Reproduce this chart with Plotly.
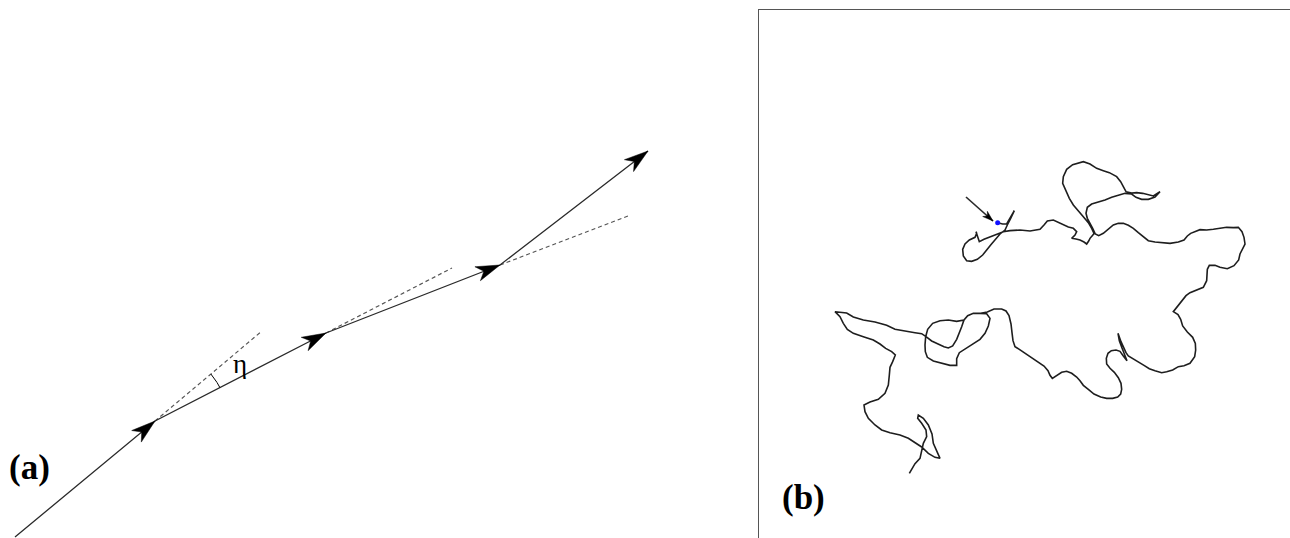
import numpy as np
import plotly.graph_objects as go

# ---------------- Panel (a): successive steps (pixel-like units, y downwards) ----------------
step_x = [15, 155, 326, 500, 648]
step_y = [537, 421, 333, 265, 151]
# ends of the dashed prolongations starting at vertices 1..3
dash_end_x = [262, 452, 628]
dash_end_y = [331, 268, 216]
angle_label = "η"
panel_labels = ["(a)", "(b)"]

# ---------------- Panel (b): traced trajectory (picture units, y downwards) ----------------
walk_start = [(533,218),(548,222),(560,222),(570,205),(583,182),(572,205),(562,225),(555,240),
    (540,252),(525,268),(512,285),(500,300),(488,315),(472,328),(455,334),(440,332),(430,318),
    (428,298),(435,282),(448,270),(465,262),(470,250),(468,245),(474,262),(478,275),(492,268),
    (508,262),(520,258),(535,250),(550,245),(570,242),(600,240),(630,243),(660,238),(672,225),
    (682,213),(700,210),(715,217),(730,225),(745,231),(760,235),(770,245),(765,255),(755,265),
    (768,267),(780,270),(792,276),(800,282),(806,273),(810,265),(818,256),(822,250)]
walk_north = [(815,235),(805,218),(790,200),(775,183),(760,165),(748,145),(738,122),(728,100),
    (730,80),(740,58),(758,44),(775,40),(790,35),(810,42),(830,55),(850,62),(868,68),(890,80),
    (902,95),(910,110),(918,125),(935,129),(950,128),(968,130),(985,135),(1000,138),(1020,125),
    (1005,141),(985,148),(965,148),(948,142),(935,132),(915,130),(895,135),(875,142),(855,150),
    (835,157),(815,162),(802,172),(798,190),(802,205),(810,218),(818,235),(826,252)]
walk_east = [(836,257),(850,250),(865,236),(880,225),(895,220),(910,220),(925,226),(940,235),
    (955,248),(970,260),(985,272),(1005,276),(1020,278),(1050,280),(1075,276),(1092,270),
    (1102,258),(1112,250),(1140,239),(1160,240),(1180,238),(1200,236),(1220,232),(1240,233),
    (1255,232),(1266,245),(1272,262),(1275,282),(1266,298),(1260,312),(1256,330),(1242,347),
    (1222,356),(1200,352),(1185,346),(1168,346),(1162,358),(1162,375),(1160,392),(1150,412),
    (1130,420),(1110,428),(1098,437),(1088,450),(1076,465),(1060,485),(1074,494),(1082,508),
    (1088,528),(1102,546),(1118,562),(1126,580),(1127,600),(1124,620),(1110,640),(1092,647),
    (1075,650),(1058,660),(1040,665),(1025,668),(1005,662),(988,656),(972,646),(955,636),
    (938,624),(925,618),(918,608),(910,592),(903,575),(894,550),(898,572),(906,594),(914,616),
    (921,632),(910,618),(900,604),(888,600),(874,602),(864,610),(859,625),(860,642),(870,655),
    (883,667),(895,683),(903,700),(905,718),(902,732),(893,741),(878,745),(860,745),(842,741),
    (822,732),(805,718),(790,706),(780,692),(770,681),(755,670),(740,664),(725,667),(712,676),
    (697,685),(690,676),(684,662),(672,648),(655,636),(635,623),(615,610),(598,598),(585,590),
    (579,572),(576,548),(573,522),(567,497),(558,483),(545,477),(522,477),(502,486)]
walk_west = [(482,490),(460,490),(443,497),(432,510),(410,514),(385,510),(360,512),(338,520),
    (323,538),(317,560),(315,585),(316,605),(322,622),(340,633),(365,640),(390,646),(410,646),
    (410,626),(418,608),(438,595),(460,583),(480,568),(495,550),(505,528),(510,505),(500,491),
    (480,490),(460,490),(443,497),(432,510),(425,530),(418,548),(410,568),(398,588),(385,594),
    (372,590),(355,583),(335,573),(318,560),(305,551),(285,548),(265,545),(245,540),(225,538),
    (200,526),(165,516),(130,510),(100,501),(80,489),(60,486),(45,485),(60,500),(70,520),
    (82,538),(100,550),(130,560),(160,570),(180,582),(197,595),(215,605),(226,615),(218,635),
    (210,652),(208,675),(205,705),(195,730),(175,748),(150,756),(132,765),(135,785),(145,805),
    (165,825),(185,840),(210,848),(240,855),(265,865),(290,880),(305,891),(325,910),(345,922),
    (360,925),(350,902),(340,880),(336,852),(325,825),(310,805),(295,795),(293,805),(305,820),
    (318,840),(320,860),(310,880),(305,900),(300,925),(285,941),(268,970)]
start_point = (533, 218)
pointer_tail = (438, 141)
pointer_tip = (519, 213)

SERIF = "Liberation Serif, Times New Roman, serif"


def head_polygon(tip, tail, length, width, notch):
    tip = np.asarray(tip, float)
    tail = np.asarray(tail, float)
    d = tip - tail
    d /= np.hypot(*d)
    n = np.array([-d[1], d[0]])
    base = tip - length * d
    pts = [tip, base + width / 2 * n, tip - notch * length * d, base - width / 2 * n, tip]
    return [p[0] for p in pts], [p[1] for p in pts]


fig = go.Figure()

# ---- panel (a) ----
for i in range(3):
    fig.add_trace(go.Scatter(
        x=[step_x[i + 1], dash_end_x[i]], y=[step_y[i + 1], dash_end_y[i]],
        mode="lines", line=dict(color="#555555", width=1.2, dash="4px,3px"),
        xaxis="x", yaxis="y", hoverinfo="skip"))

fig.add_trace(go.Scatter(x=step_x, y=step_y, mode="lines",
                         line=dict(color="#2a2a2a", width=1.3),
                         xaxis="x", yaxis="y", hoverinfo="skip"))

for i in range(1, len(step_x)):
    hx, hy = head_polygon((step_x[i], step_y[i]), (step_x[i - 1], step_y[i - 1]), 24, 15, 0.72)
    fig.add_trace(go.Scatter(x=hx, y=hy, mode="lines", fill="toself", fillcolor="black",
                             line=dict(color="black", width=0.5),
                             xaxis="x", yaxis="y", hoverinfo="skip"))

# angle arc at vertex 1
cx, cy = step_x[1], step_y[1]
a_seg = np.arctan2(step_y[2] - cy, step_x[2] - cx)
a_dash = np.arctan2(dash_end_y[0] - cy, dash_end_x[0] - cx)
t = np.linspace(a_dash, a_seg, 30)
r = 73
fig.add_trace(go.Scatter(x=cx + r * np.cos(t), y=cy + r * np.sin(t), mode="lines",
                         line=dict(color="black", width=1), xaxis="x", yaxis="y",
                         hoverinfo="skip"))

fig.add_annotation(x=240, y=364, xref="x", yref="y", text=angle_label, showarrow=False,
                   font=dict(family=SERIF, size=27, color="black"))
fig.add_annotation(x=29, y=467, xref="x", yref="y", text="<b>" + panel_labels[0] + "</b>",
                   showarrow=False, font=dict(family=SERIF, size=35, color="black"))

# ---- panel (b) ----
walk = walk_start + walk_north + walk_east + walk_west
fig.add_trace(go.Scatter(x=[p[0] for p in walk], y=[p[1] for p in walk], mode="lines",
                         line=dict(color="#1e1e1e", width=1.6),
                         xaxis="x2", yaxis="y2", hoverinfo="skip"))
fig.add_trace(go.Scatter(x=[pointer_tail[0], pointer_tip[0]], y=[pointer_tail[1], pointer_tip[1]],
                         mode="lines", line=dict(color="#2a2a2a", width=1.6),
                         xaxis="x2", yaxis="y2", hoverinfo="skip"))
hx, hy = head_polygon(pointer_tip, pointer_tail, 32, 21, 0.7)
fig.add_trace(go.Scatter(x=hx, y=hy, mode="lines", fill="toself", fillcolor="black",
                         line=dict(color="black", width=0.5),
                         xaxis="x2", yaxis="y2", hoverinfo="skip"))
fig.add_trace(go.Scatter(x=[start_point[0]], y=[start_point[1]], mode="markers",
                         marker=dict(color="#1010ff", size=5),
                         xaxis="x2", yaxis="y2", hoverinfo="skip"))
fig.add_annotation(x=-51, y=1041, xref="x2", yref="y2", text="<b>" + panel_labels[1] + "</b>",
                   showarrow=False, font=dict(family=SERIF, size=35, color="black"))

hidden = dict(visible=False, showgrid=False, zeroline=False)
fig.update_layout(
    width=1290, height=538, margin=dict(l=0, r=0, t=0, b=0),
    paper_bgcolor="white", plot_bgcolor="white", showlegend=False, hovermode=False,
    xaxis=dict(domain=[0, 748 / 1290], range=[0, 748], **hidden),
    yaxis=dict(domain=[0, 1], range=[538, 0], **hidden),
    xaxis2=dict(domain=[759 / 1290, 1], range=[-183, 1410], anchor="y2", side="top",
                showline=True, linecolor="#555555", linewidth=1.2, showticklabels=False,
                ticks="", showgrid=False, zeroline=False),
    yaxis2=dict(domain=[0, 528 / 538], range=[1164, -420], anchor="x2",
                showline=True, linecolor="#555555", linewidth=1.2, showticklabels=False,
                ticks="", showgrid=False, zeroline=False),
)

fig.write_html("out.html", config={"displayModeBar": False},
               post_script="document.body.style.margin='0';")
